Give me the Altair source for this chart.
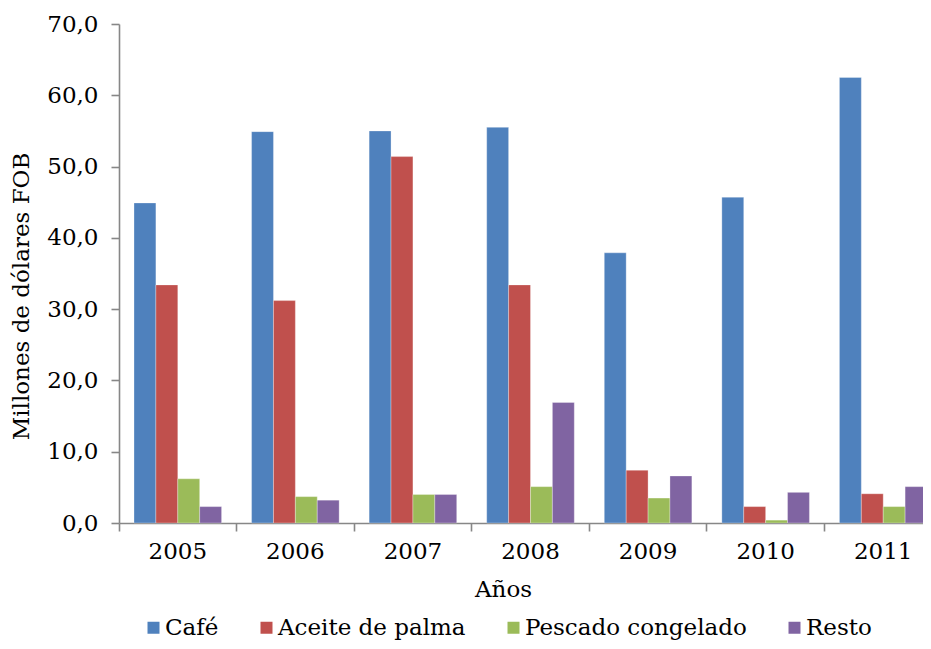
import altair as alt
import pandas as pd

years = ["2005", "2006", "2007", "2008", "2009", "2010", "2011"]
series = ["Café", "Aceite de palma", "Pescado congelado", "Resto"]
cafe = [44.9, 54.9, 55.0, 55.5, 37.9, 45.7, 62.5]
aceite = [33.4, 31.2, 51.4, 33.4, 7.4, 2.3, 4.1]
pescado = [6.2, 3.7, 4.0, 5.1, 3.5, 0.4, 2.3]
resto = [2.3, 3.2, 4.0, 16.9, 6.6, 4.3, 5.1]
colors = ["#4F81BD", "#C0504D", "#9BBB59", "#8064A2"]
y_ticks = [0, 10, 20, 30, 40, 50, 60, 70]

rows = []
for name, vals in zip(series, [cafe, aceite, pescado, resto]):
    for yr, v in zip(years, vals):
        rows.append({"Año": yr, "Producto": name, "Valor": v})
df = pd.DataFrame(rows)

FONT = "DejaVu Serif"
AXIS_COLOR = "#878787"
FS = 23

chart = alt.Chart(df).mark_bar(stroke="#ffffff", strokeWidth=0.6, strokeOpacity=0.5).encode(
    x=alt.X("Año:N", sort=years,
            scale=alt.Scale(paddingInner=0, paddingOuter=0, range=[0, 823]),
            axis=alt.Axis(title="Años", labelAngle=0, bandPosition=0,
                          tickSize=8, labelPadding=9,
                          titleX=384, titleY=55, titleBaseline="top")),
    xOffset=alt.XOffset("Producto:N", sort=series,
                        scale=alt.Scale(paddingInner=0, paddingOuter=0.685)),
    y=alt.Y("Valor:Q", scale=alt.Scale(domain=[0, 70], nice=False),
            axis=alt.Axis(title="Millones de dólares FOB", values=y_ticks,
                          labelExpr="replace(format(datum.value, '.1f'), '.', ',')",
                          tickSize=8, labelPadding=13, grid=False,
                          titleY=272, titlePadding=13)),
    color=alt.Color("Producto:N", sort=series,
                    scale=alt.Scale(domain=series, range=colors),
                    legend=alt.Legend(title=None, orient="none", direction="horizontal",
                                      legendX=23, legendY=592,
                                      symbolType="square", symbolSize=144,
                                      symbolStrokeWidth=0, labelOffset=0,
                                      columnPadding=36, labelFontSize=FS,
                                      labelLimit=0,
                                      labelFont=FONT, labelColor="#000000")),
).properties(
    width=804, height=499,
    autosize=alt.AutoSizeParams(type="none"),
    padding={"left": 111, "top": 16, "right": 0, "bottom": 117},
).configure_view(
    stroke=None
).configure_axis(
    domainColor=AXIS_COLOR, tickColor=AXIS_COLOR, domainWidth=1.6, tickWidth=1.6,
    labelFont=FONT, titleFont=FONT, labelFontSize=FS, titleFontSize=FS,
    labelColor="#000000", titleColor="#000000", titleFontWeight="normal",
)

chart.save("out.html", embed_options={"renderer": "svg", "actions": False})
